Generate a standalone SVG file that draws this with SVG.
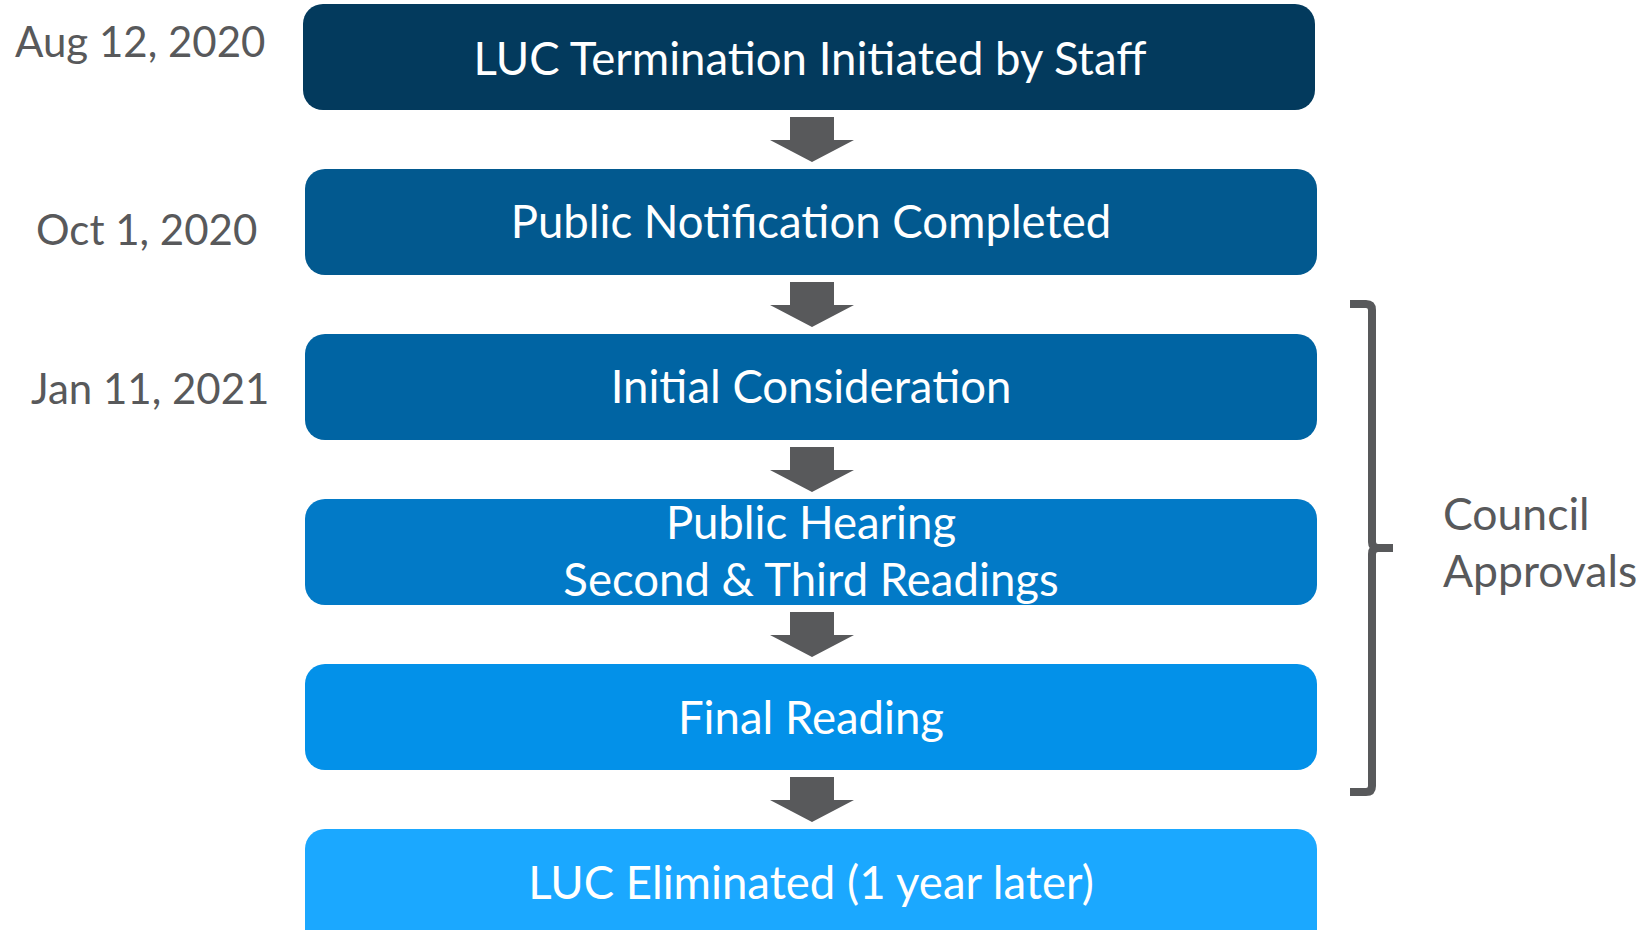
<svg xmlns="http://www.w3.org/2000/svg" width="1646" height="930" viewBox="0 0 1646 930">
<style>
.node-text{font-family:Lato,"Liberation Sans",sans-serif;font-size:45.5px;fill:#ffffff;text-anchor:middle}
.date{font-family:Lato,"Liberation Sans",sans-serif;font-size:42px;fill:#58595b}
.label{font-family:Lato,"Liberation Sans",sans-serif;font-size:44.5px;fill:#58595b}
.arrow{fill:#58595b}
.bracket{fill:none;stroke:#58595b;stroke-width:8}
</style>
<rect width="1646" height="930" fill="#ffffff"/>
<g id="dates">
<text class="date" x="15" y="57">Aug 12, 2020</text>
<text class="date" x="36" y="245">Oct 1, 2020</text>
<text class="date" x="31" y="404">Jan 11, 2021</text>
</g>
<g id="node1"><rect x="303" y="4" width="1012" height="106" rx="20" fill="#033a5d"/><text class="node-text" x="810" y="75">LUC Termination Initiated by Staff</text></g>
<g id="node2"><rect x="305" y="169" width="1012" height="106" rx="20" fill="#02598f"/><text class="node-text" x="811" y="238">Public Notification Completed</text></g>
<g id="node3"><rect x="305" y="334" width="1012" height="106" rx="20" fill="#0064a3"/><text class="node-text" x="811" y="403">Initial Consideration</text></g>
<g id="node4"><rect x="305" y="499" width="1012" height="106" rx="20" fill="#027ac7"/><text class="node-text" x="811" y="539">Public Hearing</text><text class="node-text" x="811" y="596">Second &amp; Third Readings</text></g>
<g id="node5"><rect x="305" y="664" width="1012" height="106" rx="20" fill="#0391e9"/><text class="node-text" x="811" y="734">Final Reading</text></g>
<g id="node6"><rect x="305" y="829" width="1012" height="120" rx="20" fill="#1ba8ff"/><text class="node-text" x="811" y="899">LUC Eliminated (1 year later)</text></g>
<g id="connectors">
<polygon class="arrow" points="790,117 834,117 834,140 854,140 812,162 770,140 790,140"/>
<polygon class="arrow" points="790,282 834,282 834,305 854,305 812,327 770,305 790,305"/>
<polygon class="arrow" points="790,447 834,447 834,470 854,470 812,492 770,470 790,470"/>
<polygon class="arrow" points="790,612 834,612 834,635 854,635 812,657 770,635 790,635"/>
<polygon class="arrow" points="790,777 834,777 834,800 854,800 812,822 770,800 790,800"/>
</g>
<g id="bracket">
<path class="bracket" d="M1350 304 H1366 Q1372 304 1372 310 V542 Q1372 548 1378 548 H1393 M1378 548 Q1372 548 1372 554 V786 Q1372 792 1366 792 H1350"/>
<text class="label" x="1443" y="530">Council</text>
<text class="label" x="1443" y="587">Approvals</text>
</g>
</svg>
